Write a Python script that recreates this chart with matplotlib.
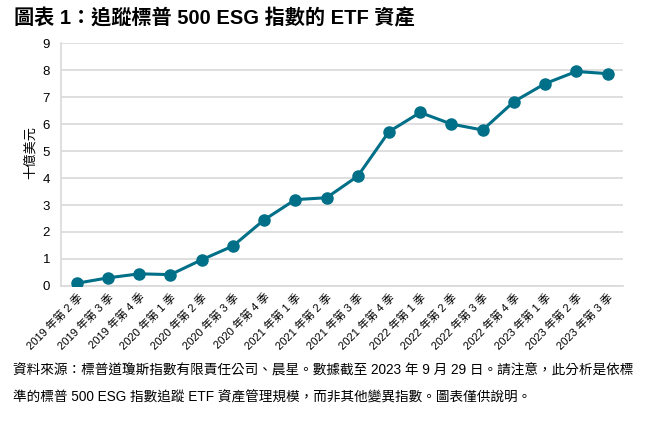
import numpy as np
import matplotlib
matplotlib.use("Agg")
from matplotlib import pyplot as plt

plt.rcParams['font.family'] = ['Liberation Sans', 'Noto Sans CJK TC', 'DejaVu Sans']

quarters = ["2019 年第 2 季", "2019 年第 3 季", "2019 年第 4 季",
            "2020 年第 1 季", "2020 年第 2 季", "2020 年第 3 季", "2020 年第 4 季",
            "2021 年第 1 季", "2021 年第 2 季", "2021 年第 3 季", "2021 年第 4 季",
            "2022 年第 1 季", "2022 年第 2 季", "2022 年第 3 季", "2022 年第 4 季",
            "2023 年第 1 季", "2023 年第 2 季", "2023 年第 3 季"]
assets = [0.10, 0.30, 0.45, 0.42, 0.97, 1.48, 2.45, 3.20, 3.27, 4.07,
          5.72, 6.43, 6.00, 5.78, 6.83, 7.50, 7.95, 7.87]
y_ticks = list(range(0, 10))

title = "圖表 1：追蹤標普 500 ESG 指數的 ETF 資產"
note = ("資料來源：標普道瓊斯指數有限責任公司、晨星。數據截至 2023 年 9 月 29 日。請注意，此分析是依標\n"
        "準的標普 500 ESG 指數追蹤 ETF 資產管理規模，而非其他變異指數。圖表僅供說明。")

teal = "#006f88"
grid_c = "#d9d9d9"

fig = plt.figure(figsize=(6.58, 4.23), dpi=100)
ax = fig.add_axes([0.093, 0.324, 0.854, 0.574])

x = np.arange(len(quarters))
ax.plot(x, assets, color=teal, linewidth=2.2, marker='o', markersize=8,
        markerfacecolor=teal, markeredgecolor=teal, zorder=3)

ax.set_xlim(-0.5, len(quarters) - 0.5)
ax.set_ylim(0, 9)
ax.set_yticks(y_ticks)
ax.set_yticklabels([str(v) for v in y_ticks], fontsize=9.5)
ax.set_xticks(x)
ax.set_xticklabels(quarters, rotation=45, ha='right', rotation_mode='anchor', fontsize=8)
ax.tick_params(axis='both', length=0)
ax.tick_params(axis='x', pad=4)
ax.tick_params(axis='y', pad=8)

ax.grid(axis='y', color=grid_c, linewidth=1.2)
ax.set_axisbelow(True)
for s in ['top', 'right']:
    ax.spines[s].set_visible(False)
for s in ['left', 'bottom']:
    ax.spines[s].set_color(grid_c)
    ax.spines[s].set_linewidth(1.2)

ax.set_ylabel("十億美元", fontsize=9.5, va='center', ha='center')
ax.yaxis.set_label_coords(-0.055, 0.55)

fig.text(0.021, 0.958, title, fontsize=14.5, fontweight='bold', va='center', ha='left')
fig.text(0.02, 0.093, note, fontsize=9.8, va='center', ha='left', linespacing=2.2)

fig.savefig("out.png", dpi=100)
